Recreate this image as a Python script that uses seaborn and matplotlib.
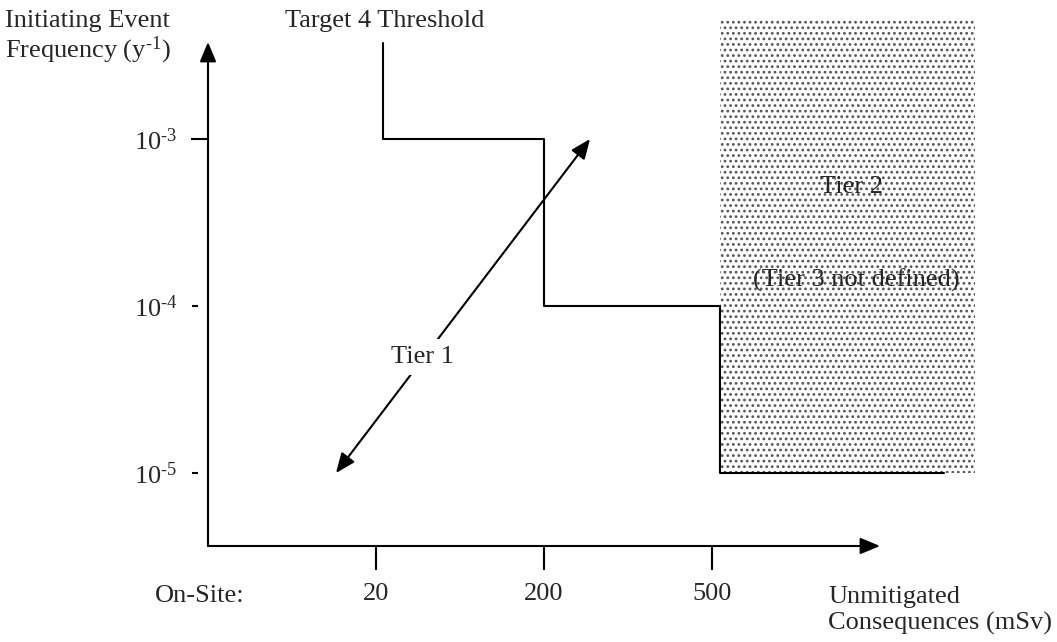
import numpy as np
import matplotlib
matplotlib.use("Agg")
import matplotlib.pyplot as plt
import seaborn as sns
from matplotlib.path import Path

onsite_dose = ["20", "200", "500"]          # x tick labels (mSv)
dose_pos = [1, 2, 3]                        # schematic positions of the ticks
freq_ticks = [1e-3, 1e-4, 1e-5]             # y ticks
freq_labels = ["10$^{\u20103}$", "10$^{\u20104}$", "10$^{\u20105}$"]

# Target 4 threshold step line
step_x = [1.04, 1.04, 2.0, 2.0, 3.05, 3.05, 4.38]
step_y = [3.76e-3, 1e-3, 1e-3, 1e-4, 1e-4, 1e-5, 1e-5]

# Tier 2 shaded region
tier2_x = [3.05, 4.565]
tier2_low = 1e-5
tier2_high = 5.3e-3

# Tier 1 double arrow (tail, head)
tier1_arrow_x = [0.762, 2.274]
tier1_arrow_y = [1e-5, 1e-3]

sns.set_style("white")
plt.rcParams["font.family"] = ["Liberation Serif", "DejaVu Serif"]
plt.rcParams["mathtext.fontset"] = "custom"
plt.rcParams["mathtext.rm"] = "Liberation Serif"
plt.rcParams["mathtext.it"] = "Liberation Serif:italic"
plt.rcParams["mathtext.bf"] = "Liberation Serif:bold"
plt.rcParams["hatch.linewidth"] = 1.2

FS = 19
W, H = 1057, 642
fig = plt.figure(figsize=(W / 100, H / 100), dpi=100)
ax = fig.add_axes([208 / W, (H - 546) / H, 672 / W, 504 / H])
ax.set_yscale("log")
ax.set_xlim(0, 4.0)
ax.set_ylim(10 ** -5.437, 10 ** -2.419)
for s in ax.spines.values():
    s.set_visible(False)

# shaded Tier 2 area
ax.fill_between(tier2_x, tier2_low, tier2_high, facecolor="white",
                edgecolor="#555555", hatch="...", linewidth=0, clip_on=False, zorder=1)

# threshold line
sns.lineplot(x=step_x, y=step_y, sort=False, estimator=None, color="black",
             linewidth=1.5, ax=ax, clip_on=False, zorder=3)

# axes arrows
arrow_kw = dict(arrowstyle="-|>,head_length=1.2,head_width=0.5", color="black",
                lw=1.5, shrinkA=0, shrinkB=0, mutation_scale=10)
ax.annotate("", xy=(0, 1), xytext=(0, 0), xycoords="axes fraction", arrowprops=arrow_kw)
ax.annotate("", xy=(1, 0), xytext=(0, 0), xycoords="axes fraction", arrowprops=arrow_kw)

# Tier 1 arrow
ax.annotate("", xy=(tier1_arrow_x[1], tier1_arrow_y[1]), xytext=(tier1_arrow_x[0], tier1_arrow_y[0]),
            arrowprops=dict(arrowstyle="<|-|>,head_length=1.2,head_width=0.5", color="black",
                            lw=1.5, shrinkA=0, shrinkB=0, mutation_scale=10), zorder=4)
ax.text(1.274, 10 ** -4.305, "Tier 1", fontsize=FS, ha="center", va="center", zorder=5,
        bbox=dict(facecolor="white", edgecolor="none", pad=5))

ax.text(3.83, 10 ** -3.287, "Tier 2", fontsize=FS, ha="center", va="center", zorder=5)
ax.text(3.86, 10 ** -3.844, "(Tier 3 not defined)", fontsize=FS, ha="center", va="center", zorder=5)

# ticks
ax.set_xticks(dose_pos, labels=onsite_dose)
ax.set_yticks(freq_ticks, labels=freq_labels)
ax.minorticks_off()
ax.tick_params(axis="x", direction="out", length=17, width=1.5, pad=10, labelsize=FS,
               bottom=True, color="black")
ax.tick_params(axis="y", direction="out", length=12, width=1.5, pad=10, labelsize=FS,
               left=True, color="black")
dash = Path([(-1.0, 0.0), (-0.6, 0.0)], [Path.MOVETO, Path.LINETO])
for t in ax.yaxis.get_major_ticks()[1:]:
    t.tick1line.set_marker(dash)
    t.tick1line.set_markersize(23)

# outside labels
fig.text(5 / W, 1 - 21 / H, "Initiating Event", fontsize=FS, ha="left", va="center")
fig.text(5 / W, 1 - 50 / H, "Frequency (y$^{\u20101}$)", fontsize=FS, ha="left", va="center")
fig.text(385 / W, 1 - 21 / H, "Target 4 Threshold", fontsize=FS, ha="center", va="center")
fig.text(155 / W, 1 - 596 / H, "On-Site:", fontsize=FS, ha="left", va="center")
fig.text(828 / W, 1 - 597 / H, "Unmitigated", fontsize=FS, ha="left", va="center")
fig.text(828 / W, 1 - 623 / H, "Consequences (mSv)", fontsize=FS, ha="left", va="center")

fig.savefig("out.png", dpi=100)
